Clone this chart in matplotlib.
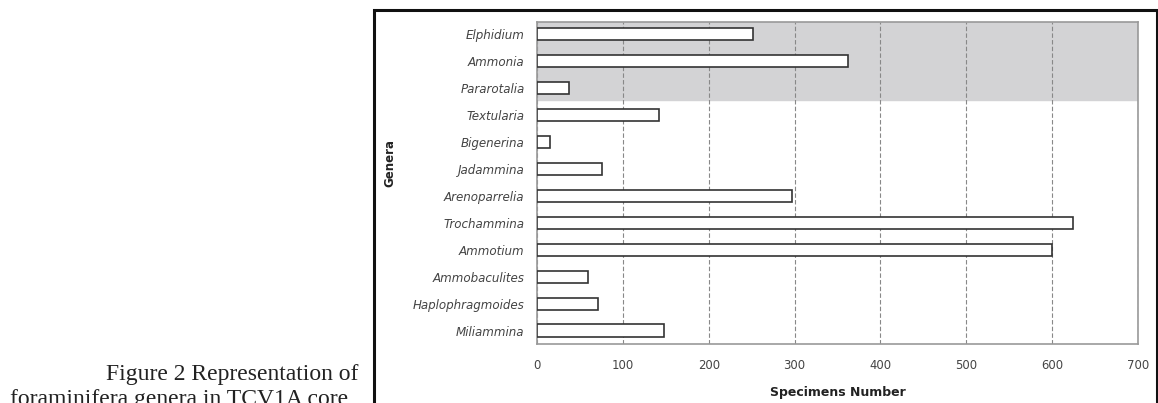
import matplotlib.pyplot as plt
from matplotlib.patches import Rectangle

genera = ["Elphidium", "Ammonia", "Pararotalia", "Textularia", "Bigenerina",
          "Jadammina", "Arenoparrelia", "Trochammina", "Ammotium",
          "Ammobaculites", "Haplophragmoides", "Miliammina"]
specimens = [252, 362, 37, 142, 15, 76, 297, 624, 600, 59, 71, 148]
x_ticks = [0, 100, 200, 300, 400, 500, 600, 700]
n_shaded = 3  # calcareous genera in the grey band

W, H = 1158, 403
fig = plt.figure(figsize=(W / 100, H / 100), dpi=100)
ax = fig.add_axes([537 / W, 1 - 344 / H, 601 / W, 322 / H])

ypos = list(range(len(genera)))
ax.axhspan(-0.5, n_shaded - 0.55, color="#d3d3d5", zorder=0)
ax.barh(ypos, specimens, height=0.45, color="white", edgecolor="#333333",
        linewidth=1.2, zorder=3)

ax.set_xlim(0, 700)
ax.set_ylim(len(genera) - 0.5, -0.45)
ax.set_xticks(x_ticks)
ax.set_yticks(ypos)
ax.set_yticklabels(genera, fontstyle="italic", family="DejaVu Sans",
                   fontsize=8.6, color="#444444")
ax.tick_params(axis="x", labelsize=8.4, colors="#444444", length=0, pad=11)
ax.tick_params(axis="y", length=0, pad=9)
ax.grid(axis="x", linestyle=(0, (4, 2)), color="#888888", linewidth=0.8, zorder=1)
for s in ax.spines.values():
    s.set_color("#999999")
    s.set_linewidth(1.2)

ax.set_xlabel("Specimens Number", fontsize=9, fontweight="bold",
              color="#222222", labelpad=10)
fig.text(390 / W, 1 - 163 / H, "Genera", rotation=90, fontsize=8.5,
         fontweight="bold", color="#222222", ha="center", va="center")

# outer frame of the figure panel
fig.patches.append(Rectangle((374 / W, -0.05), 783 / W, 1.05 - 10 / H,
                             transform=fig.transFigure, fill=False,
                             edgecolor="#111111", linewidth=2.2))

fig.text(358 / W, 1 - 380 / H, "Figure 2 Representation of", ha="right",
         va="baseline", family="Liberation Serif", fontsize=17, color="#222222")
fig.text(10 / W, 1 - 405 / H, "foraminifera genera in TCV1A core", ha="left",
         va="baseline", family="Liberation Serif", fontsize=17, color="#222222")

plt.savefig("out.png", dpi=100)
